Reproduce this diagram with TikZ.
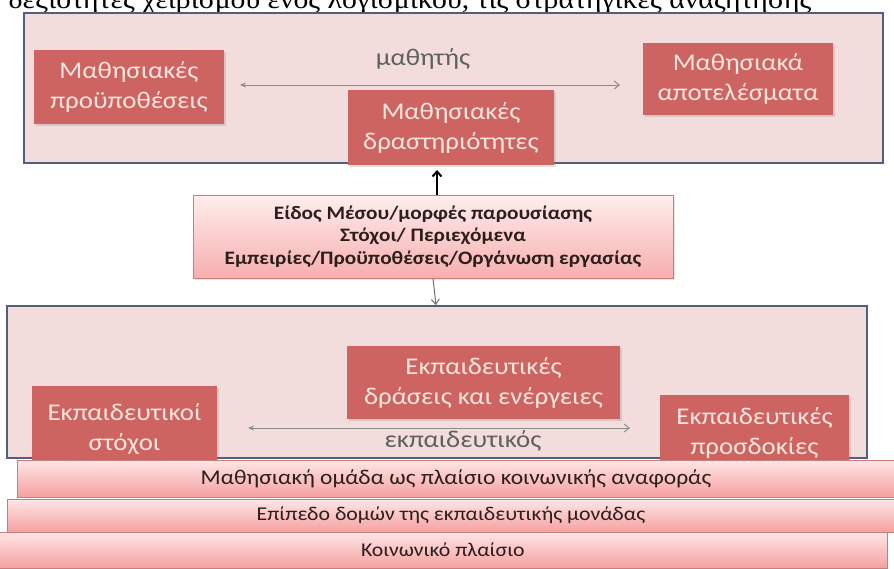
\documentclass[tikz,border=0pt]{standalone}
\usepackage{fontspec}
\setmainfont{Carlito}
\newfontfamily\boxfont[FakeStretch=1.12]{Carlito}
\newfontfamily\seriffont[FakeStretch=1.1]{Liberation Serif}
\usetikzlibrary{arrows.meta,shadows}
\definecolor{contfill}{RGB}{242,221,220}
\definecolor{contdraw}{RGB}{79,95,125}
\definecolor{boxfill}{RGB}{206,100,97}
\definecolor{boxtext}{RGB}{250,228,222}
\definecolor{labgray}{RGB}{95,95,95}
\definecolor{arrgray}{RGB}{140,140,140}
\definecolor{bandtop}{RGB}{255,230,230}
\definecolor{bandbot}{RGB}{245,160,160}
\definecolor{banddraw}{RGB}{200,125,125}
\definecolor{midtext}{RGB}{45,30,30}
\tikzset{
  container/.style={draw=contdraw, line width=2.5pt, fill=contfill, inner sep=0pt},
  redbox/.style={fill=boxfill, text=boxtext, inner sep=0pt, align=center,
    font=\boxfont\fontsize{24}{30}\selectfont,
    drop shadow={opacity=0.25, shadow xshift=1.5pt, shadow yshift=-1.5pt}},
  midbox/.style={draw=banddraw, line width=0.6pt, top color=bandtop!70!white, bottom color=bandbot!85!white,
    text=midtext, inner sep=0pt, align=center, font=\boxfont\bfseries\fontsize{19}{22.5}\selectfont,
    drop shadow={opacity=0.2, shadow xshift=1.5pt, shadow yshift=-1.5pt}},
  band/.style={draw=banddraw, line width=0.8pt, top color=bandtop, bottom color=bandbot,
    text=midtext, inner sep=0pt, font=\boxfont\fontsize{19.5}{22}\selectfont},
  label/.style={text=labgray, inner sep=0pt, font=\boxfont\fontsize{24}{28}\selectfont},
  grayarrow/.style={draw=arrgray, line width=1pt, {Stealth[length=6pt,width=5pt]}-{Straight Barb[length=5pt,width=8pt]}},
  uparrow/.style={draw=black, line width=2pt, -{Straight Barb[length=5pt,width=9pt]}},
  downarrow/.style={draw=arrgray!80!black, line width=1pt, -{Straight Barb[length=5pt,width=8pt]}}
}
\begin{document}
\begin{tikzpicture}[x=1pt,y=-1pt]
\useasboundingbox[fill=white] (0,0) rectangle (894,568);
% clipped text line at top (cut off in the reference)
\node[anchor=base, inner sep=0pt, font=\seriffont\fontsize{27}{30}\selectfont] (topline) at (410,8)
  {δεξιότητες χειρισμού ενός λογισμικού, τις στρατηγικές αναζήτησης};
% containers
\node[container, minimum width=859pt, minimum height=150pt] (topcont) at (453.5,88) {};
\node[container, minimum width=860pt, minimum height=152pt] (botcont) at (437,382) {};
% top boxes
\node[redbox, minimum width=190pt, minimum height=74pt] (prereq) at (129,87) {Μαθησιακές\\προϋποθέσεις};
\node[redbox, minimum width=206pt, minimum height=75pt] (activ) at (451,127.5) {Μαθησιακές\\δραστηριότητες};
\node[redbox, minimum width=190pt, minimum height=72pt] (results) at (738,79) {Μαθησιακά\\αποτελέσματα};
\node[label] (student) at (423,59) {μαθητής};
\coordinate (sl) at (240,85);
\coordinate (sr) at (620,85);
\draw[grayarrow] (sl) -- (sr);
% middle box
\node[midbox, minimum width=480pt, minimum height=83pt] (mid) at (433,236.5)
  {Είδος Μέσου/μορφές παρουσίασης\\Στόχοι/ Περιεχόμενα\\Εμπειρίες/Προϋποθέσεις/Οργάνωση εργασίας};
\coordinate (upend) at (437,170);
\draw[uparrow] (mid.north -| upend) -- (upend);
\coordinate (downend) at (436,305);
\draw[downarrow] (mid.south) -- (downend);
% bottom boxes
\node[redbox, minimum width=273pt, minimum height=73pt] (actions) at (483.5,382.5) {Εκπαιδευτικές\\δράσεις και ενέργειες};
\node[redbox, minimum width=185pt, minimum height=86pt] (goals) at (124.5,429) {Εκπαιδευτικοί\\στόχοι};
\node[redbox, minimum width=189pt, minimum height=76pt] (expect) at (754.5,433) {Εκπαιδευτικές\\προσδοκίες};
\coordinate (tl) at (248,428);
\coordinate (tr) at (630,428);
\draw[grayarrow] (tl) -- (tr);
\node[label] (teacher) at (463,441) {εκπαιδευτικός};
% bands
\node[band, minimum width=878pt, minimum height=37pt, font=\boxfont\fontsize{21}{22}\selectfont] (band1) at (456,478.5) {Μαθησιακή ομάδα ως πλαίσιο κοινωνικής αναφοράς};
\node[band, minimum width=888pt, minimum height=33pt] (band2) at (451,515.5) {Επίπεδο δομών της εκπαιδευτικής μονάδας};
\node[band, minimum width=888pt, minimum height=36pt] (band3) at (443,550) {Κοινωνικό πλαίσιο};
\end{tikzpicture}
\end{document}
